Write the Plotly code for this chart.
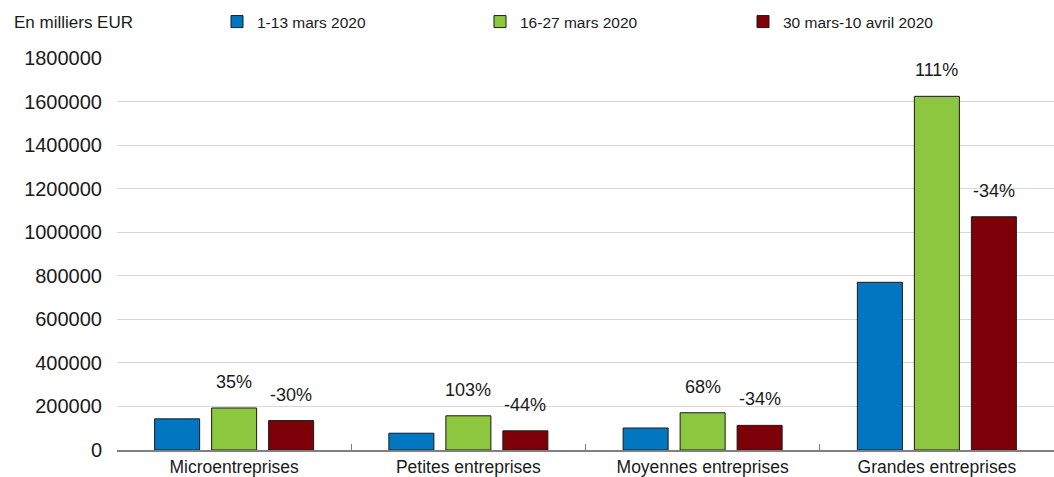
import plotly.graph_objects as go

# Catégories d'entreprises et montants (en milliers EUR) par période
categories = ["Microentreprises", "Petites entreprises", "Moyennes entreprises", "Grandes entreprises"]
periods = ["1-13 mars 2020", "16-27 mars 2020", "30 mars-10 avril 2020"]
values_p1 = [143000, 77000, 101000, 770000]
values_p2 = [193000, 157000, 171000, 1624000]
values_p3 = [135000, 88000, 113000, 1071000]
# Variations d'une période à l'autre (affichées au-dessus des barres)
change_p2 = ["35%", "103%", "68%", "111%"]
change_p3 = ["-30%", "-44%", "-34%", "-34%"]
y_ticks = [0, 200000, 400000, 600000, 800000, 1000000, 1200000, 1400000, 1600000, 1800000]

colors = ["#0077C0", "#8DC740", "#7D0008"]
font = "Liberation Sans, Arial, sans-serif"

W, H = 1054, 477
ML, MR, MT, MB = 117, 0, 58, 27
BARGAP, GROUPGAP = 0.27, 0.21
PW, PH = W - ML - MR, H - MT - MB

fig = go.Figure()
for name, vals, col in zip(periods, [values_p1, values_p2, values_p3], colors):
    fig.add_trace(go.Bar(
        x=categories, y=vals, name=name,
        marker=dict(color=col, line=dict(color="#1a1a1a", width=1)),
    ))

# horizontal offset of the 2nd and 3rd bar within each group, in pixels
cat_w = PW / len(categories)
slot = cat_w * (1 - BARGAP) / 3

annotations = []
for i, cat in enumerate(categories):
    for vals, labels, shift in [(values_p2, change_p2, 0), (values_p3, change_p3, slot)]:
        annotations.append(dict(
            x=cat, y=vals[i], xref="x", yref="y", text=labels[i],
            showarrow=False, xshift=shift, yshift=14, yanchor="bottom",
            font=dict(family=font, size=18, color="#1a1a1a"),
        ))
annotations.append(dict(
    x=(12 - ML) / PW, y=(H - MB - 22) / PH, xref="paper", yref="paper",
    text="En milliers EUR", showarrow=False, xanchor="left", yanchor="middle",
    font=dict(family=font, size=17, color="#1a1a1a"),
))

fig.update_layout(
    width=W, height=H,
    margin=dict(l=ML, r=MR, t=MT, b=MB),
    paper_bgcolor="white", plot_bgcolor="white",
    barmode="group", bargap=BARGAP, bargroupgap=GROUPGAP,
    showlegend=True,
    legend=dict(
        orientation="h", xref="container", yref="container",
        x=217 / W, y=1 - 22 / H, xanchor="left", yanchor="middle",
        entrywidth=218, entrywidthmode="pixels",
        font=dict(family=font, size=15.5, color="#1a1a1a"),
        bgcolor="rgba(0,0,0,0)", traceorder="normal",
    ),
    annotations=annotations,
    xaxis=dict(
        showline=True, linecolor="#808080", linewidth=1.5,
        ticks="inside", tickson="boundaries", ticklen=6, tickcolor="#808080", tickwidth=1,
        tickfont=dict(family=font, size=17.5, color="#1a1a1a"),
        showgrid=False, zeroline=False, fixedrange=True,
    ),
    yaxis=dict(
        range=[0, 1800000], tickvals=y_ticks, tickformat="d",
        showgrid=True, gridcolor="#D9D9D9", gridwidth=1,
        showline=False, zeroline=False, ticks="",
        ticklabelstandoff=14,
        tickfont=dict(family=font, size=20, color="#1a1a1a"),
    ),
)

fig.write_html("out.html")
